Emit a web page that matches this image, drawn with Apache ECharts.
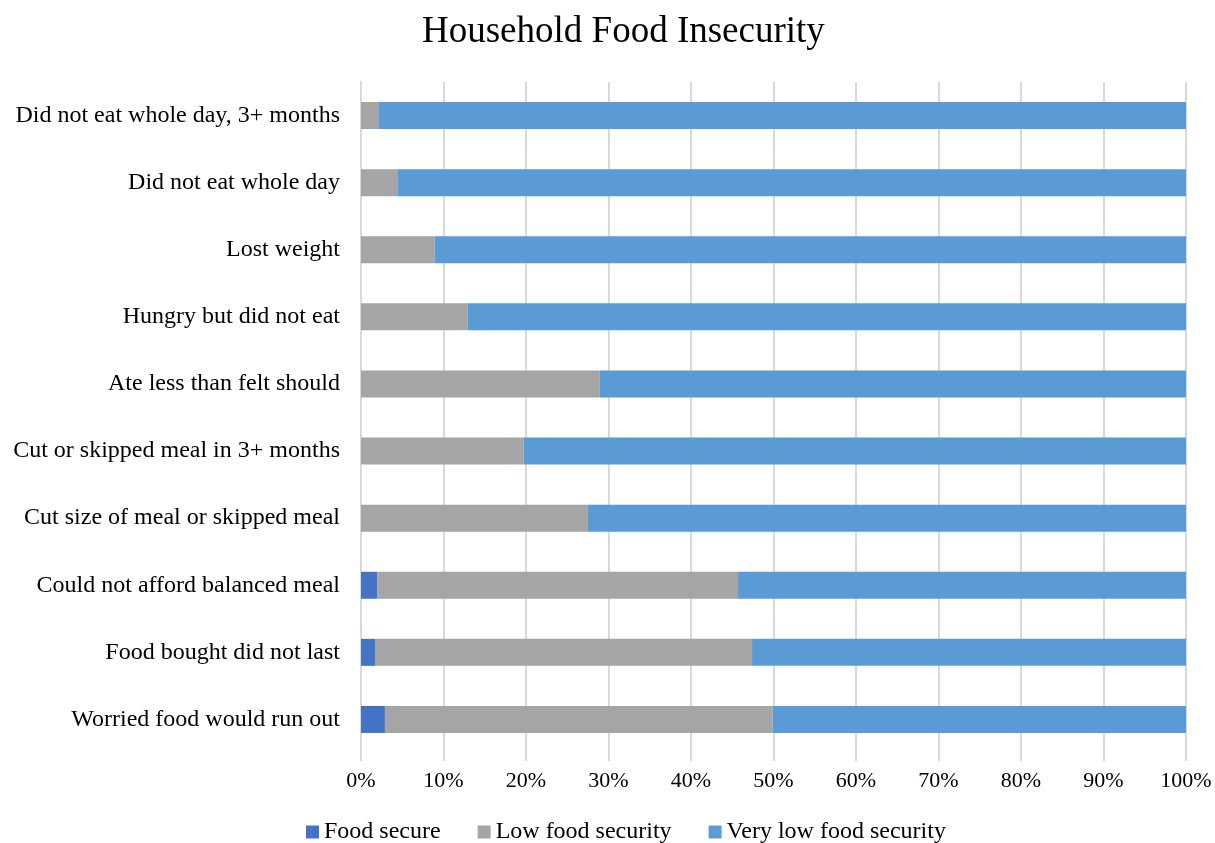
<!DOCTYPE html>
<html><head><meta charset="utf-8">
<script src="https://cdn.jsdelivr.net/npm/echarts@6/dist/echarts.min.js"></script>
<style>html,body{margin:0;padding:0;background:#fff}#c{width:1215px;height:843px}</style>
</head><body><div id="c"></div>
<script>
const categories = ["Worried food would run out","Food bought did not last","Could not afford balanced meal","Cut size of meal or skipped meal","Cut or skipped meal in 3+ months","Ate less than felt should","Hungry but did not eat","Lost weight","Did not eat whole day","Did not eat whole day, 3+ months"];
const foodSecure = [2.9, 1.7, 2.0, 0, 0, 0, 0, 0, 0, 0];
const lowFoodSecurity = [47.0, 45.7, 43.7, 27.5, 19.7, 28.9, 12.9, 8.9, 4.4, 2.1];
const veryLowFoodSecurity = foodSecure.map((v, i) => +(100 - v - lowFoodSecurity[i]).toFixed(1));
const xTicks = [0,10,20,30,40,50,60,70,80,90,100];

const font = "'Liberation Serif','Times New Roman',serif";
const chart = echarts.init(document.getElementById('c'));
function mk(name, data, color){
  return {name, type:'bar', stack:'t', data, barWidth:27, itemStyle:{color}, emphasis:{disabled:true}};
}
chart.setOption({
  animation:false,
  title:{text:'Household Food Insecurity', left:417, top:9, textStyle:{fontFamily:font, fontWeight:'normal', fontSize:37, color:'#000'}},
  legend:{top:815, left:301, itemWidth:13, itemHeight:13, itemGap:37, icon:'rect',
    textStyle:{fontFamily:font, fontSize:24, color:'#000'},
    data:['Food secure','Low food security','Very low food security']},
  grid:{left:361, right:29, top:82, bottom:90},
  xAxis:{type:'value', min:0, max:100, interval:10,
    axisLabel:{formatter:v=>v+'%', fontFamily:font, fontSize:22, color:'#000', margin:17},
    axisLine:{show:false}, axisTick:{show:true, length:8, lineStyle:{color:'#d9d9d9', width:2}},
    splitLine:{lineStyle:{color:'#d9d9d9', width:2}}},
  yAxis:{type:'category', data:categories,
    axisLabel:{fontFamily:font, fontSize:24, color:'#000', margin:21},
    axisLine:{show:true, lineStyle:{color:'#d9d9d9', width:2}}, axisTick:{show:false}},
  series:[
    mk('Food secure', foodSecure, '#4472C4'),
    mk('Low food security', lowFoodSecurity, '#A5A5A5'),
    mk('Very low food security', veryLowFoodSecurity, '#5B9BD5')
  ]
});
</script></body></html>
